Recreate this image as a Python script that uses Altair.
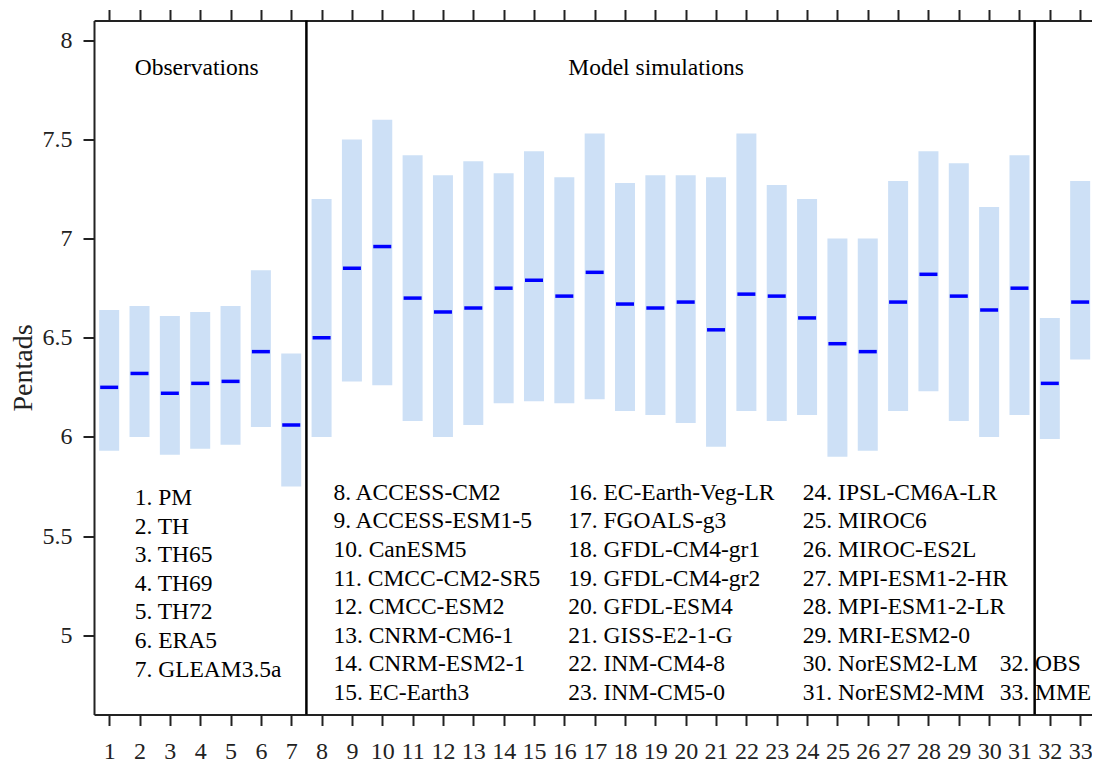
import altair as alt
import pandas as pd

# ---- data ----
idx = list(range(1, 34))
low = [5.93, 6.00, 5.91, 5.94, 5.96, 6.05, 5.75,
       6.00, 6.28, 6.26, 6.08, 6.00, 6.06, 6.17, 6.18, 6.17, 6.19,
       6.13, 6.11, 6.07, 5.95, 6.13, 6.08, 6.11, 5.90, 5.93, 6.13,
       6.23, 6.08, 6.00, 6.11, 5.99, 6.39]
high = [6.64, 6.66, 6.61, 6.63, 6.66, 6.84, 6.42,
        7.20, 7.50, 7.60, 7.42, 7.32, 7.39, 7.33, 7.44, 7.31, 7.53,
        7.28, 7.32, 7.32, 7.31, 7.53, 7.27, 7.20, 7.00, 7.00, 7.29,
        7.44, 7.38, 7.16, 7.42, 6.60, 7.29]
mid = [6.25, 6.32, 6.22, 6.27, 6.28, 6.43, 6.06,
       6.50, 6.85, 6.96, 6.70, 6.63, 6.65, 6.75, 6.79, 6.71, 6.83,
       6.67, 6.65, 6.68, 6.54, 6.72, 6.71, 6.60, 6.47, 6.43, 6.68,
       6.82, 6.71, 6.64, 6.75, 6.27, 6.68]

obs_names = ["PM", "TH", "TH65", "TH69", "TH72", "ERA5", "GLEAM3.5a"]
model_names = ["ACCESS-CM2", "ACCESS-ESM1-5", "CanESM5", "CMCC-CM2-SR5",
               "CMCC-ESM2", "CNRM-CM6-1", "CNRM-ESM2-1", "EC-Earth3",
               "EC-Earth-Veg-LR", "FGOALS-g3", "GFDL-CM4-gr1", "GFDL-CM4-gr2",
               "GFDL-ESM4", "GISS-E2-1-G", "INM-CM4-8", "INM-CM5-0",
               "IPSL-CM6A-LR", "MIROC6", "MIROC-ES2L", "MPI-ESM1-2-HR",
               "MPI-ESM1-2-LR", "MRI-ESM2-0", "NorESM2-LM", "NorESM2-MM"]
extra_names = ["OBS", "MME"]
dividers = [7.5, 31.5]
group_titles = ["Observations", "Model simulations"]

y_ticks = [5, 5.5, 6, 6.5, 7, 7.5, 8]

df = pd.DataFrame({"idx": idx, "low": low, "high": high, "mid": mid})

# ---- annotation layout (in data units) ----
FONT = "Liberation Serif"
row_step = 0.1443
labels = []
for i, n in enumerate(obs_names):
    labels.append({"t": f"{i+1}. {n}", "x": 1.84, "y": 5.657 - i * row_step})
col_x = [8.39, 16.13, 23.86]
for i, n in enumerate(model_names):
    c, r = divmod(i, 8)
    labels.append({"t": f"{i+8}. {n}", "x": col_x[c], "y": 5.683 - r * row_step})
for i, n in enumerate(extra_names):
    labels.append({"t": f"{i+32}. {n}", "x": 30.35, "y": 5.683 - (6 + i) * row_step})
labels.append({"t": group_titles[0], "x": 1.84, "y": 7.827})
labels.append({"t": group_titles[1], "x": 16.13, "y": 7.827})
lab_df = pd.DataFrame(labels)

x_scale = alt.Scale(domain=[0.5, 33.39], nice=False, zero=False, padding=0)
y_scale = alt.Scale(domain=[4.6, 8.1], nice=False, zero=False, padding=0)

axis_common = dict(grid=False, domain=True, domainColor="#222",
                   domainWidth=2, tickColor="#222", tickWidth=2,
                   tickSize=11, labelColor="#222", labelFont=FONT,
                   labelFontSize=24)

y_axis = alt.Axis(orient="left", values=y_ticks, format=".1~f",
                  labelPadding=11, title="Pentads",
                  titleFont=FONT, titleFontSize=28,
                  titleFontWeight="normal", titleColor="#222",
                  titlePadding=5, labelFlush=False, **axis_common)

bars = alt.Chart(df).mark_bar(color="#cde0f6", size=20, opacity=1).encode(
    x=alt.X("idx:Q", scale=x_scale,
            axis=alt.Axis(orient="bottom", values=idx, format="d",
                          labelPadding=14, title=None, labelFlush=False,
                          labelOverlap=False, **axis_common)),
    y=alt.Y("low:Q", scale=y_scale, axis=y_axis),
    y2="high:Q",
)

ticks = alt.Chart(df).mark_tick(color="#0000ff", orient="horizontal",
                                size=18, thickness=3.5, opacity=1).encode(
    x=alt.X("idx:Q", scale=x_scale,
            axis=alt.Axis(orient="top", values=idx, labels=False,
                          title=None, **axis_common)),
    y=alt.Y("mid:Q", scale=y_scale, axis=y_axis),
)

rules = alt.Chart(pd.DataFrame({"x": dividers})).mark_rule(
    color="black", strokeWidth=2.5).encode(
    x=alt.X("x:Q", scale=x_scale, axis=None))

texts = alt.Chart(lab_df).mark_text(
    align="left", baseline="alphabetic", font=FONT, fontSize=23.5,
    color="black").encode(
    x=alt.X("x:Q", scale=x_scale, axis=None),
    y=alt.Y("y:Q", scale=y_scale, axis=y_axis),
    text="t:N",
)

chart = alt.layer(bars, ticks, rules, texts).resolve_axis(
    x="independent"
).properties(
    width=998, height=694,
    autosize=alt.AutoSizeParams(type="none"),
    padding={"left": 86, "top": 12.5, "right": 0, "bottom": 48},
).configure_view(stroke="transparent").configure(font=FONT)

chart.save("out.html", embed_options={"renderer": "svg", "actions": False})
